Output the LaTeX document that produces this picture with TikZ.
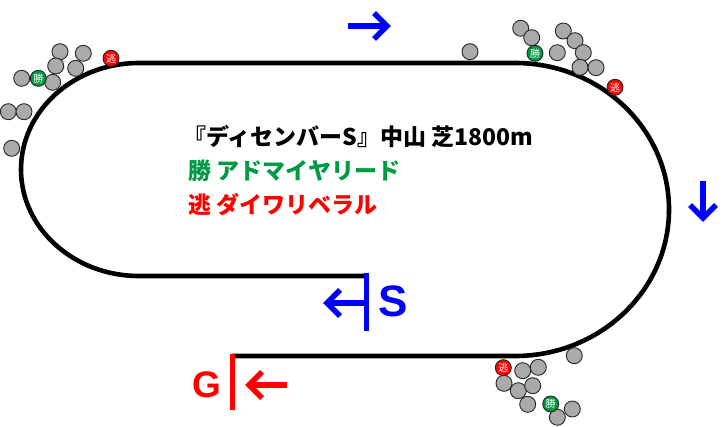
\documentclass[tikz,border=0pt]{standalone}
\usepackage{fontspec}
\setmainfont{Liberation Sans}
\newfontfamily\jpfont{Noto Sans CJK JP}
\definecolor{HorseGray}{RGB}{170,170,170}
\definecolor{WinGreen} {RGB}{0,153,68}
\definecolor{EscRed}   {RGB}{255,0,0}
\definecolor{DirBlue}  {RGB}{0,0,255}
\tikzset{
  % Track rail
  rail/.style={draw=black, line width=4.6pt},
  % Horse positions (plain runners and the two marked ones)
  horse/.style={circle, draw=black!85, fill=HorseGray, line width=0.9pt,
    minimum size=16pt, inner sep=0pt},
  mark/.style={circle, draw=black!85, fill=#1, line width=0.9pt,
    minimum size=16pt, inner sep=0pt, text=white,
    font=\jpfont\fontsize{10}{10}\selectfont},
  % Direction arrows (shaft + open chevron) and start / goal posts
  dirline/.style={draw=#1, line width=5.6pt, line join=miter},
  post/.style={draw=#1, line width=5pt},
  info/.style={anchor=base west, font=\jpfont\bfseries\fontsize{23}{23}\selectfont}
}

\begin{document}
\begin{tikzpicture}[x=1pt, y=1pt]
  \useasboundingbox (0,0) rectangle (728,-427);

  %% ── Track ──────────────────────────────────────────────────────────────
  \coordinate (sPost) at (366,-276);
  \coordinate (gPost) at (232,-356);
  \draw[rail] (sPost) -- (139,-276)
    arc[start angle=270, end angle=90, x radius=118, y radius=106.5]
    -- (515,-63)
    arc[start angle=90, end angle=-90, x radius=154, y radius=146.5]
    -- (gPost);

  %% ── Start ──────────────────────────────────────────────────────────────
  \coordinate (sTop) at (366,-273);
  \coordinate (sBot) at (366,-331);
  \coordinate (sMid) at (366,-303);
  \coordinate (sArr) at (327,-303);
  \draw[post=DirBlue] (sTop) -- (sBot);
  \draw[dirline=DirBlue] (sMid) -- (sArr);
  \draw[dirline=DirBlue] (sArr) ++(13,13) -- (sArr) -- ++(13,-13);
  \node[text=DirBlue, font=\bfseries\fontsize{44}{44}\selectfont] (sLbl) at (393,-301) {S};

  %% ── Goal ───────────────────────────────────────────────────────────────
  \coordinate (gTop) at (232.5,-354);
  \coordinate (gBot) at (232.5,-410);
  \coordinate (gArrA) at (287,-385);
  \coordinate (gArrB) at (249,-385);
  \draw[post=EscRed] (gTop) -- (gBot);
  \draw[dirline=EscRed] (gArrA) -- (gArrB);
  \draw[dirline=EscRed] (gArrB) ++(13,13) -- (gArrB) -- ++(13,-13);
  \node[text=EscRed, font=\bfseries\fontsize{37}{37}\selectfont] (gLbl) at (207,-385) {G};

  %% ── Running direction ──────────────────────────────────────────────────
  \coordinate (topA) at (348,-26);
  \coordinate (topB) at (387,-26);
  \draw[dirline=DirBlue] (topA) -- (topB);
  \draw[dirline=DirBlue] (topB) ++(-13,13) -- (topB) -- ++(-13,-13);
  \coordinate (rgtA) at (703,-181);
  \coordinate (rgtB) at (703,-218);
  \draw[dirline=DirBlue] (rgtA) -- (rgtB);
  \draw[dirline=DirBlue] (rgtB) ++(-13,13) -- (rgtB) -- ++(13,13);

  %% ── Race info ──────────────────────────────────────────────────────────
  \node[info] (title) at (180,-146) {『ディセンバーS』中山 芝1800m};
  \node[info, text=WinGreen] (winner) at (185,-180) {勝 アドマイヤリード};
  \node[info, text=EscRed] (leader) at (185,-214) {逃 ダイワリベラル};

  %% ── Horses: 1st corner ─────────────────────────────────────────────────
  \foreach \hx/\hy [count=\i] in {60/51.7, 83.3/53.3, 55.7/66, 75.7/68.3, 21.7/78.3,
      52.7/82.3, 8.3/111.7, 24/111.7, 11.7/148.3}
    \node[horse] (ca\i) at (\hx,-\hy) {};
  \node[mark=WinGreen] (caWin) at (38.3,-78.3) {勝};
  \node[mark=EscRed]   (caEsc) at (111,-58.3) {逃};

  %% ── Horses: 3rd corner ─────────────────────────────────────────────────
  \foreach \hx/\hy [count=\i] in {470/51.7, 520.7/28.3, 531.7/37.7, 557.3/52.7, 563.3/31,
      575/40.7, 583.3/52.7, 580/67.3, 596/67.7}
    \node[horse] (cb\i) at (\hx,-\hy) {};
  \node[mark=WinGreen] (cbWin) at (535,-53.3) {勝};
  \node[mark=EscRed]   (cbEsc) at (615,-87.3) {逃};

  %% ── Horses: 4th corner ─────────────────────────────────────────────────
  \foreach \hx/\hy [count=\i] in {574.3/355.7, 522.7/370.7, 538.3/367.3, 504/383.3,
      518.3/390.7, 532.7/385.7, 527.7/404.3, 572.3/409, 557.3/417.3}
    \node[horse] (cc\i) at (\hx,-\hy) {};
  \node[mark=EscRed]   (ccEsc) at (503.3,-367.7) {逃};
  \node[mark=WinGreen] (ccWin) at (550.7,-404) {勝};

\end{tikzpicture}
\end{document}
